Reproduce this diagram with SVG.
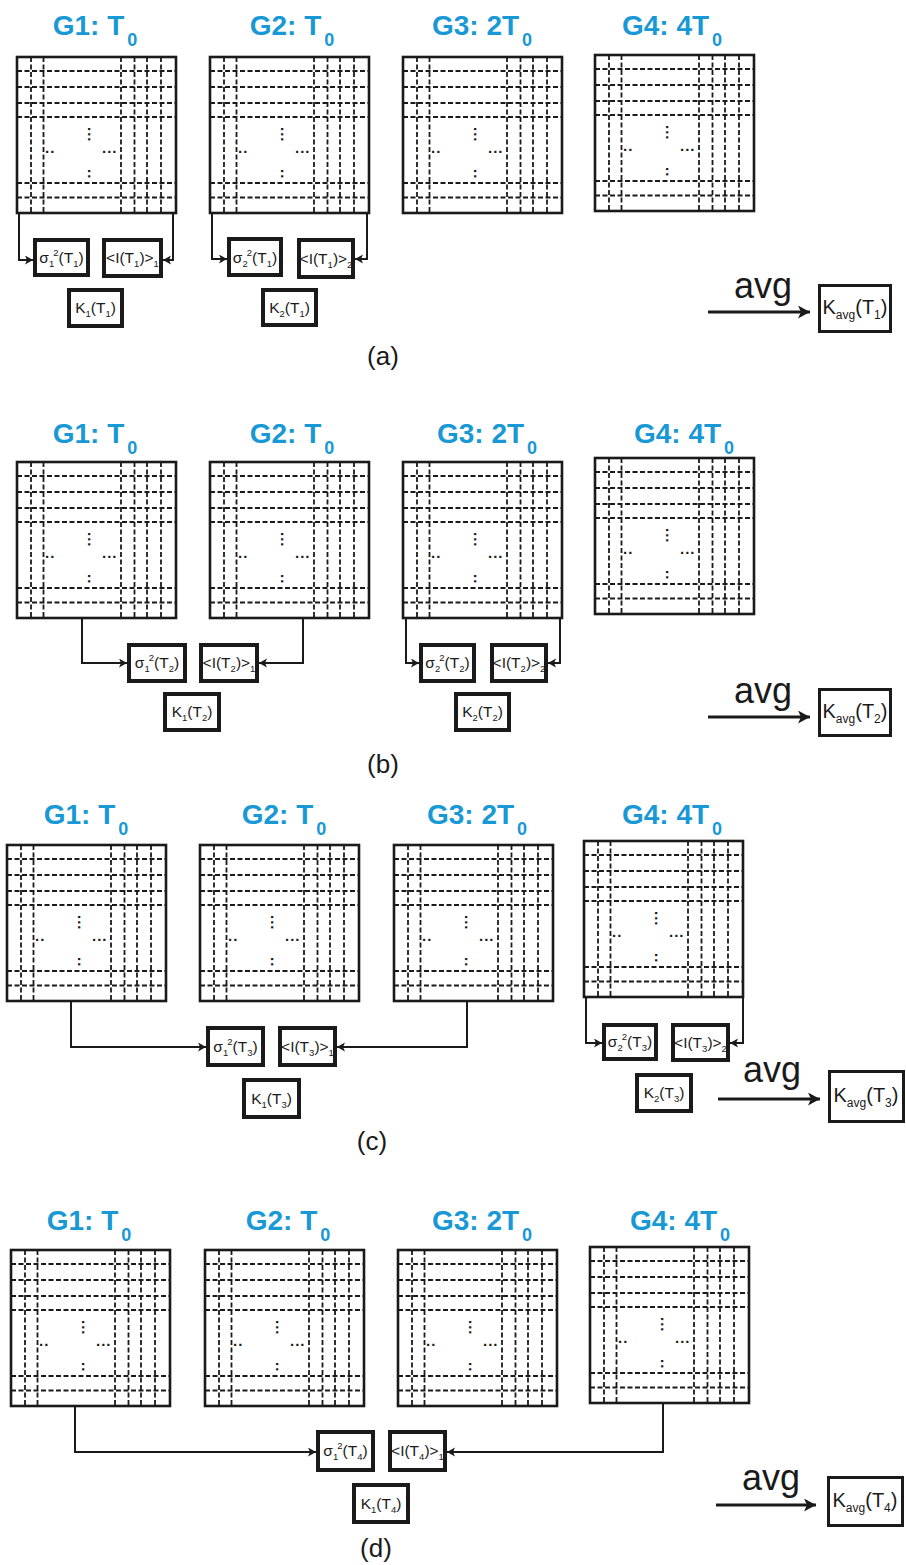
<svg xmlns="http://www.w3.org/2000/svg" xmlns:xlink="http://www.w3.org/1999/xlink" width="906" height="1565" viewBox="0 0 906 1565">
  <style>
    .gbox { fill: #fff; stroke: #1a1a1a; stroke-width: 2.6; }
    .gd { fill: none; stroke: #1a1a1a; stroke-width: 1.8; stroke-dasharray: 5 2.5; }
    .dots { font-family: "Liberation Sans", Arial, sans-serif; font-weight: bold; font-size: 15px; letter-spacing: 1px; fill: #1a1a1a; }
    .ttl { font-family: "Liberation Sans", Arial, sans-serif; font-weight: bold; font-size: 28px; fill: #1898d5; text-anchor: middle; }
    .ts { font-size: 18px; }
    .bx { fill: #fff; stroke: #1a1a1a; stroke-width: 4; }
    .bt { font-family: "Liberation Sans", Arial, sans-serif; font-size: 15.5px; fill: #1a1a1a; text-anchor: middle; }
    .sb { font-size: 9.5px; }
    .conn { fill: none; stroke: #1a1a1a; stroke-width: 2; marker-end: url(#ah); }
    .avgl { fill: none; stroke: #1a1a1a; stroke-width: 3; marker-end: url(#ahb); }
    .avgt { font-family: "Liberation Sans", Arial, sans-serif; font-size: 36px; fill: #1a1a1a; text-anchor: middle; }
    .kv { fill: #fff; stroke: #1a1a1a; stroke-width: 3; }
    .kvt { font-family: "Liberation Sans", Arial, sans-serif; font-size: 20px; fill: #1a1a1a; text-anchor: middle; }
    .kvs { font-size: 12px; }
    .lbl { font-family: "Liberation Sans", Arial, sans-serif; font-size: 26px; fill: #1a1a1a; text-anchor: middle; }
  </style>
  <defs>
    <marker id="ah" markerUnits="userSpaceOnUse" markerWidth="10" markerHeight="10" refX="8" refY="4.5" orient="auto">
      <path d="M0,0 L8,4.5 L0,9 L2,4.5 Z" fill="#1a1a1a"/>
    </marker>
    <marker id="ahb" markerUnits="userSpaceOnUse" markerWidth="14" markerHeight="14" refX="12" refY="6.5" orient="auto">
      <path d="M0,0 L12,6.5 L0,13 L3,6.5 Z" fill="#1a1a1a"/>
    </marker>
    <!-- pixel grid: outer frame, dashed rows/columns, ellipsis marks -->
    <g id="grid">
      <rect class="gbox" x="0" y="0" width="159" height="156"/>
      <path class="gd" d="M14 0V156M26.5 0V156M104 0V156M117.5 0V156M130 0V156M144 0V156M0 14H159M0 30H159M0 46H159M0 60H159M0 126H159M0 140.5H159"/>
      <text class="dots" transform="translate(70.5,70) rotate(90)">...</text>
      <text class="dots" transform="translate(70.5,112) rotate(90)">..</text>
      <text class="dots" x="28" y="96">..</text>
      <text class="dots" x="85" y="96">...</text>
    </g>
  </defs>
  <rect width="906" height="1565" fill="#fff"/>

  <!-- (a) -->
  <g id="a-G1"><text class="ttl" x="95" y="35">G1: T<tspan class="ts" dx="3" dy="11">0</tspan></text><use xlink:href="#grid" x="17" y="57"/></g>
  <g id="a-G2"><text class="ttl" x="292" y="35">G2: T<tspan class="ts" dx="3" dy="11">0</tspan></text><use xlink:href="#grid" x="210" y="57"/></g>
  <g id="a-G3"><text class="ttl" x="482" y="35">G3: 2T<tspan class="ts" dx="3" dy="11">0</tspan></text><use xlink:href="#grid" x="403" y="57"/></g>
  <g id="a-G4"><text class="ttl" x="672" y="35">G4: 4T<tspan class="ts" dx="3" dy="11">0</tspan></text><use xlink:href="#grid" x="595" y="55"/></g>
  <g id="a-sig1"><rect class="bx" x="35" y="240" width="53" height="35"/><text class="bt" x="61.5" y="263">σ<tspan class="sb" dy="4">1</tspan><tspan class="sb" dx="-1" dy="-11">2</tspan><tspan dy="7">(T</tspan><tspan class="sb" dy="4">1</tspan><tspan dy="-4">)</tspan></text></g>
  <g id="a-I1"><rect class="bx" x="104" y="240" width="57" height="36"/><text class="bt" x="132.5" y="263">&lt;I(T<tspan class="sb" dy="4">1</tspan><tspan dy="-4">)&gt;</tspan><tspan class="sb" dy="4">1</tspan></text></g>
  <g id="a-K1"><rect class="bx" x="69" y="290" width="53" height="36"/><text class="bt" x="95.5" y="313">K<tspan class="sb" dy="4">1</tspan><tspan dy="-4">(T</tspan><tspan class="sb" dy="4">1</tspan><tspan dy="-4">)</tspan></text></g>
  <g id="a-sig2"><rect class="bx" x="229" y="239" width="52" height="36"/><text class="bt" x="255" y="263">σ<tspan class="sb" dy="4">2</tspan><tspan class="sb" dx="-1" dy="-11">2</tspan><tspan dy="7">(T</tspan><tspan class="sb" dy="4">1</tspan><tspan dy="-4">)</tspan></text></g>
  <g id="a-I2"><rect class="bx" x="299" y="240" width="54" height="37"/><text class="bt" x="326" y="264">&lt;I(T<tspan class="sb" dy="4">1</tspan><tspan dy="-4">)&gt;</tspan><tspan class="sb" dy="4">2</tspan></text></g>
  <g id="a-K2"><rect class="bx" x="263" y="290" width="53" height="35"/><text class="bt" x="289.5" y="313">K<tspan class="sb" dy="4">2</tspan><tspan dy="-4">(T</tspan><tspan class="sb" dy="4">1</tspan><tspan dy="-4">)</tspan></text></g>
  <g id="a-avg"><text class="avgt" x="763" y="298">avg</text><rect class="kv" x="819.5" y="285.5" width="71" height="46"/><text class="kvt" x="855" y="314">K<tspan class="kvs" dy="5">avg</tspan><tspan dy="-5">(T</tspan><tspan class="kvs" dy="5">1</tspan><tspan dy="-5">)</tspan></text></g>
  <text class="lbl" x="383" y="365">(a)</text>

  <!-- (b) -->
  <g id="b-G1"><text class="ttl" x="95" y="443">G1: T<tspan class="ts" dx="3" dy="11">0</tspan></text><use xlink:href="#grid" x="17" y="462"/></g>
  <g id="b-G2"><text class="ttl" x="292" y="443">G2: T<tspan class="ts" dx="3" dy="11">0</tspan></text><use xlink:href="#grid" x="210" y="462"/></g>
  <g id="b-G3"><text class="ttl" x="487" y="443">G3: 2T<tspan class="ts" dx="3" dy="11">0</tspan></text><use xlink:href="#grid" x="403" y="462"/></g>
  <g id="b-G4"><text class="ttl" x="684" y="443">G4: 4T<tspan class="ts" dx="3" dy="11">0</tspan></text><use xlink:href="#grid" x="595" y="458"/></g>
  <g id="b-sig1"><rect class="bx" x="129" y="645" width="56" height="36"/><text class="bt" x="157" y="668">σ<tspan class="sb" dy="4">1</tspan><tspan class="sb" dx="-1" dy="-11">2</tspan><tspan dy="7">(T</tspan><tspan class="sb" dy="4">2</tspan><tspan dy="-4">)</tspan></text></g>
  <g id="b-I1"><rect class="bx" x="201" y="645" width="56" height="36"/><text class="bt" x="229" y="668">&lt;I(T<tspan class="sb" dy="4">2</tspan><tspan dy="-4">)&gt;</tspan><tspan class="sb" dy="4">1</tspan></text></g>
  <g id="b-K1"><rect class="bx" x="165" y="694" width="54" height="36"/><text class="bt" x="192" y="717">K<tspan class="sb" dy="4">1</tspan><tspan dy="-4">(T</tspan><tspan class="sb" dy="4">2</tspan><tspan dy="-4">)</tspan></text></g>
  <g id="b-sig2"><rect class="bx" x="421" y="645" width="53" height="36"/><text class="bt" x="447.5" y="668">σ<tspan class="sb" dy="4">2</tspan><tspan class="sb" dx="-1" dy="-11">2</tspan><tspan dy="7">(T</tspan><tspan class="sb" dy="4">2</tspan><tspan dy="-4">)</tspan></text></g>
  <g id="b-I2"><rect class="bx" x="492" y="645" width="54" height="36"/><text class="bt" x="519" y="668">&lt;I(T<tspan class="sb" dy="4">2</tspan><tspan dy="-4">)&gt;</tspan><tspan class="sb" dy="4">2</tspan></text></g>
  <g id="b-K2"><rect class="bx" x="456" y="694" width="53" height="36"/><text class="bt" x="482.5" y="717">K<tspan class="sb" dy="4">2</tspan><tspan dy="-4">(T</tspan><tspan class="sb" dy="4">2</tspan><tspan dy="-4">)</tspan></text></g>
  <g id="b-avg"><text class="avgt" x="763" y="703">avg</text><rect class="kv" x="819.5" y="689.5" width="71" height="46"/><text class="kvt" x="855" y="718">K<tspan class="kvs" dy="5">avg</tspan><tspan dy="-5">(T</tspan><tspan class="kvs" dy="5">2</tspan><tspan dy="-5">)</tspan></text></g>
  <text class="lbl" x="383" y="773">(b)</text>

  <!-- (c) -->
  <g id="c-G1"><text class="ttl" x="86" y="824">G1: T<tspan class="ts" dx="3" dy="11">0</tspan></text><use xlink:href="#grid" x="7" y="845"/></g>
  <g id="c-G2"><text class="ttl" x="284" y="824">G2: T<tspan class="ts" dx="3" dy="11">0</tspan></text><use xlink:href="#grid" x="200" y="845"/></g>
  <g id="c-G3"><text class="ttl" x="477" y="824">G3: 2T<tspan class="ts" dx="3" dy="11">0</tspan></text><use xlink:href="#grid" x="394" y="845"/></g>
  <g id="c-G4"><text class="ttl" x="672" y="824">G4: 4T<tspan class="ts" dx="3" dy="11">0</tspan></text><use xlink:href="#grid" x="584" y="841"/></g>
  <g id="c-sig1"><rect class="bx" x="208" y="1028" width="55" height="37"/><text class="bt" x="235.5" y="1052">σ<tspan class="sb" dy="4">1</tspan><tspan class="sb" dx="-1" dy="-11">2</tspan><tspan dy="7">(T</tspan><tspan class="sb" dy="4">3</tspan><tspan dy="-4">)</tspan></text></g>
  <g id="c-I1"><rect class="bx" x="280" y="1028" width="55" height="37"/><text class="bt" x="307.5" y="1052">&lt;I(T<tspan class="sb" dy="4">3</tspan><tspan dy="-4">)&gt;</tspan><tspan class="sb" dy="4">1</tspan></text></g>
  <g id="c-K1"><rect class="bx" x="244" y="1080" width="55" height="37"/><text class="bt" x="271.5" y="1104">K<tspan class="sb" dy="4">1</tspan><tspan dy="-4">(T</tspan><tspan class="sb" dy="4">3</tspan><tspan dy="-4">)</tspan></text></g>
  <g id="c-sig2"><rect class="bx" x="604" y="1025" width="52" height="34"/><text class="bt" x="630" y="1047">σ<tspan class="sb" dy="4">2</tspan><tspan class="sb" dx="-1" dy="-11">2</tspan><tspan dy="7">(T</tspan><tspan class="sb" dy="4">3</tspan><tspan dy="-4">)</tspan></text></g>
  <g id="c-I2"><rect class="bx" x="673" y="1025" width="55" height="35"/><text class="bt" x="700.5" y="1048">&lt;I(T<tspan class="sb" dy="4">3</tspan><tspan dy="-4">)&gt;</tspan><tspan class="sb" dy="4">2</tspan></text></g>
  <g id="c-K2"><rect class="bx" x="637" y="1075" width="54" height="36"/><text class="bt" x="664" y="1098">K<tspan class="sb" dy="4">2</tspan><tspan dy="-4">(T</tspan><tspan class="sb" dy="4">3</tspan><tspan dy="-4">)</tspan></text></g>
  <g id="c-avg"><text class="avgt" x="772" y="1082">avg</text><rect class="kv" x="829.5" y="1071.5" width="74" height="50"/><text class="kvt" x="866" y="1102">K<tspan class="kvs" dy="5">avg</tspan><tspan dy="-5">(T</tspan><tspan class="kvs" dy="5">3</tspan><tspan dy="-5">)</tspan></text></g>
  <text class="lbl" x="372" y="1150">(c)</text>

  <!-- (d) -->
  <g id="d-G1"><text class="ttl" x="89" y="1230">G1: T<tspan class="ts" dx="3" dy="11">0</tspan></text><use xlink:href="#grid" x="11" y="1250"/></g>
  <g id="d-G2"><text class="ttl" x="288" y="1230">G2: T<tspan class="ts" dx="3" dy="11">0</tspan></text><use xlink:href="#grid" x="205" y="1250"/></g>
  <g id="d-G3"><text class="ttl" x="482" y="1230">G3: 2T<tspan class="ts" dx="3" dy="11">0</tspan></text><use xlink:href="#grid" x="398" y="1250"/></g>
  <g id="d-G4"><text class="ttl" x="680" y="1230">G4: 4T<tspan class="ts" dx="3" dy="11">0</tspan></text><use xlink:href="#grid" x="590" y="1247"/></g>
  <g id="d-sig1"><rect class="bx" x="318" y="1432" width="55" height="38"/><text class="bt" x="345.5" y="1456">σ<tspan class="sb" dy="4">1</tspan><tspan class="sb" dx="-1" dy="-11">2</tspan><tspan dy="7">(T</tspan><tspan class="sb" dy="4">4</tspan><tspan dy="-4">)</tspan></text></g>
  <g id="d-I1"><rect class="bx" x="390" y="1432" width="55" height="38"/><text class="bt" x="417.5" y="1456">&lt;I(T<tspan class="sb" dy="4">4</tspan><tspan dy="-4">)&gt;</tspan><tspan class="sb" dy="4">1</tspan></text></g>
  <g id="d-K1"><rect class="bx" x="354" y="1485" width="54" height="37"/><text class="bt" x="381" y="1509">K<tspan class="sb" dy="4">1</tspan><tspan dy="-4">(T</tspan><tspan class="sb" dy="4">4</tspan><tspan dy="-4">)</tspan></text></g>
  <g id="d-avg"><text class="avgt" x="771" y="1490">avg</text><rect class="kv" x="828.5" y="1477.5" width="74" height="48"/><text class="kvt" x="865" y="1507">K<tspan class="kvs" dy="5">avg</tspan><tspan dy="-5">(T</tspan><tspan class="kvs" dy="5">4</tspan><tspan dy="-5">)</tspan></text></g>
  <text class="lbl" x="376" y="1557">(d)</text>

  <!-- connectors -->
  <g id="connectors">
    <path class="conn" d="M19,213 V260 H33"/>
    <path class="conn" d="M173,213 V260 H163"/>
    <path class="conn" d="M212,213 V259 H227"/>
    <path class="conn" d="M367,213 V259 H355"/>
    <path class="avgl" d="M708,312 H810"/>

    <path class="conn" d="M82,618 V663 H127"/>
    <path class="conn" d="M303,618 V663 H259"/>
    <path class="conn" d="M406,618 V663 H419"/>
    <path class="conn" d="M560,618 V663 H548"/>
    <path class="avgl" d="M708,717 H810"/>

    <path class="conn" d="M71,1001 V1047 H206"/>
    <path class="conn" d="M467,1001 V1047 H337"/>
    <path class="conn" d="M586,997 V1043 H602"/>
    <path class="conn" d="M743,997 V1043 H730"/>
    <path class="avgl" d="M718,1099 H820"/>

    <path class="conn" d="M75,1406 V1452 H316"/>
    <path class="conn" d="M663,1403 V1452 H447"/>
    <path class="avgl" d="M716,1505 H816"/>
  </g>
</svg>
